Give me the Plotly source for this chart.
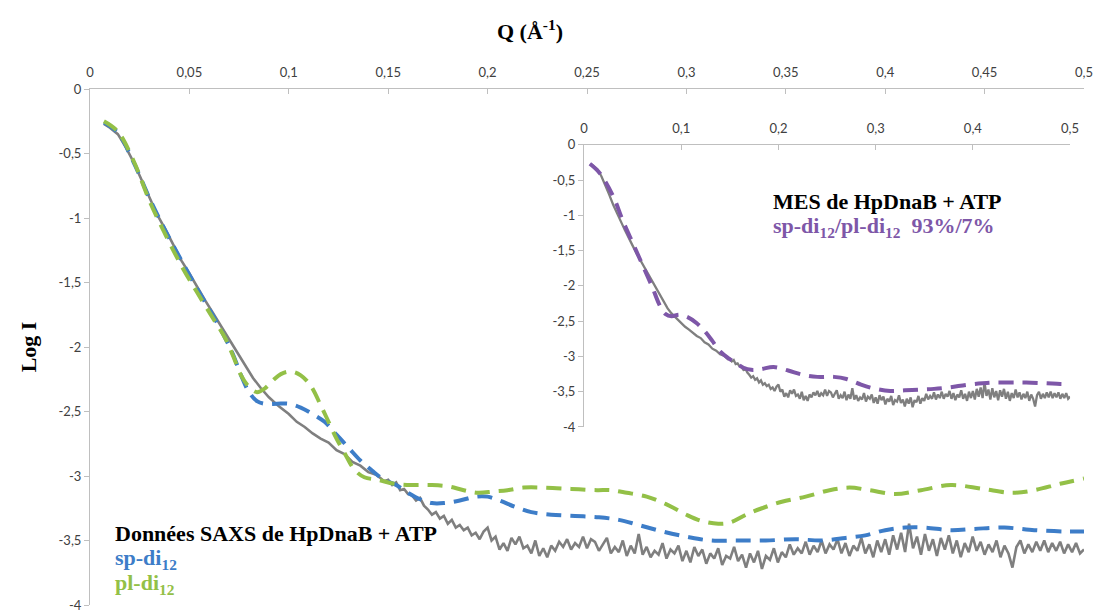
import plotly.graph_objects as go

# ---------------- data ----------------
# Experimental SAXS curve (HpDnaB + ATP), smooth low-q part
q_exp_low = [0.007, 0.010, 0.014, 0.018, 0.022, 0.026, 0.030, 0.034, 0.038, 0.042,
             0.046, 0.050, 0.054, 0.058, 0.062, 0.066, 0.070, 0.074, 0.078, 0.082,
             0.086, 0.090, 0.095, 0.100, 0.104, 0.108, 0.112, 0.116, 0.120, 0.124,
             0.128, 0.132, 0.136, 0.140, 0.144, 0.148]
logI_exp_low = [-0.27, -0.30, -0.35, -0.45, -0.57, -0.71, -0.85, -0.98, -1.09, -1.21,
                -1.33, -1.43, -1.54, -1.64, -1.74, -1.84, -1.94, -2.04, -2.14, -2.24,
                -2.32, -2.39, -2.46, -2.52, -2.58, -2.62, -2.67, -2.71, -2.74, -2.80,
                -2.83, -2.89, -2.92, -2.97, -2.99, -3.04]

# Experimental SAXS curve, noisy high-q part (q = 0.150 ... 0.500, step 0.002)
q_exp_high = [round(0.150 + 0.002 * i, 3) for i in range(176)]
logI_exp_high = [
    -3.03, -3.07, -3.05, -3.11, -3.10, -3.14, -3.15, -3.19, -3.17, -3.23,
    -3.26, -3.30, -3.28, -3.33, -3.31, -3.37, -3.34, -3.40, -3.38, -3.42,
    -3.40, -3.46, -3.44, -3.49, -3.43, -3.40, -3.50, -3.47, -3.57, -3.52,
    -3.58, -3.48, -3.53, -3.47, -3.56, -3.54, -3.60, -3.50, -3.62, -3.56,
    -3.63, -3.54, -3.58, -3.51, -3.55, -3.49, -3.57, -3.52, -3.55, -3.47,
    -3.56, -3.49, -3.51, -3.58, -3.53, -3.48, -3.60, -3.55, -3.59, -3.50,
    -3.62, -3.54, -3.60, -3.45, -3.61, -3.55, -3.63, -3.58, -3.61, -3.52,
    -3.64, -3.57, -3.60, -3.54, -3.66, -3.58, -3.67, -3.55, -3.62, -3.57,
    -3.68, -3.60, -3.64, -3.56, -3.69, -3.62, -3.64, -3.55, -3.66, -3.61,
    -3.71, -3.60, -3.67, -3.58, -3.72, -3.62, -3.65, -3.56, -3.67, -3.59,
    -3.63, -3.53, -3.61, -3.56, -3.60, -3.51, -3.61, -3.54, -3.59, -3.50,
    -3.60, -3.53, -3.57, -3.49, -3.60, -3.52, -3.62, -3.54, -3.58, -3.48,
    -3.60, -3.53, -3.63, -3.50, -3.59, -3.49, -3.61, -3.46, -3.57, -3.44,
    -3.59, -3.37, -3.56, -3.47, -3.61, -3.45, -3.58, -3.49, -3.62, -3.48,
    -3.57, -3.46, -3.60, -3.50, -3.63, -3.52, -3.59, -3.47, -3.58, -3.51,
    -3.61, -3.53, -3.59, -3.50, -3.63, -3.54, -3.60, -3.71, -3.55, -3.50,
    -3.60, -3.53, -3.59, -3.51, -3.58, -3.50, -3.59, -3.52, -3.58, -3.51,
    -3.60, -3.53, -3.59, -3.52, -3.60, -3.57]

q_exp = q_exp_low + q_exp_high
logI_exp = logI_exp_low + logI_exp_high

# sp-di12 model (blue)
q_sp = [0.007, 0.014, 0.022, 0.030, 0.038, 0.046, 0.054, 0.062, 0.068, 0.072,
        0.076, 0.080, 0.084, 0.088, 0.094, 0.100, 0.106, 0.112, 0.118, 0.124,
        0.130, 0.136, 0.142, 0.148, 0.154, 0.160, 0.166, 0.172, 0.178, 0.186,
        0.194, 0.200, 0.206, 0.214, 0.222, 0.232, 0.244, 0.256, 0.266, 0.276,
        0.288, 0.300, 0.312, 0.325, 0.340, 0.355, 0.368, 0.380, 0.390, 0.400,
        0.410, 0.420, 0.433, 0.445, 0.460, 0.475, 0.490, 0.500]
logI_sp = [-0.26, -0.34, -0.57, -0.85, -1.10, -1.33, -1.55, -1.76, -1.93, -2.06,
           -2.22, -2.35, -2.42, -2.44, -2.44, -2.44, -2.47, -2.52, -2.58, -2.68,
           -2.78, -2.88, -2.96, -3.03, -3.07, -3.13, -3.18, -3.21, -3.21, -3.19,
           -3.16, -3.16, -3.19, -3.24, -3.28, -3.30, -3.31, -3.32, -3.34, -3.38,
           -3.43, -3.47, -3.50, -3.50, -3.50, -3.49, -3.50, -3.48, -3.46, -3.42,
           -3.40, -3.40, -3.42, -3.41, -3.40, -3.42, -3.43, -3.43]

# pl-di12 model (green)
q_pl = [0.007, 0.014, 0.022, 0.030, 0.038, 0.046, 0.054, 0.062, 0.068, 0.072,
        0.076, 0.080, 0.084, 0.088, 0.092, 0.096, 0.101, 0.106, 0.111, 0.116,
        0.120, 0.124, 0.128, 0.133, 0.138, 0.145, 0.153, 0.163, 0.172, 0.180,
        0.188, 0.195, 0.203, 0.210, 0.218, 0.228, 0.242, 0.255, 0.262, 0.270,
        0.280, 0.290, 0.300, 0.308, 0.316, 0.322, 0.330, 0.338, 0.348, 0.360,
        0.372, 0.382, 0.392, 0.405, 0.418, 0.433, 0.449, 0.464, 0.475, 0.488,
        0.500]
logI_pl = [-0.25, -0.33, -0.56, -0.87, -1.13, -1.37, -1.58, -1.78, -1.93, -2.07,
           -2.22, -2.31, -2.35, -2.32, -2.26, -2.21, -2.19, -2.22, -2.30, -2.45,
           -2.58, -2.71, -2.82, -2.95, -3.01, -3.03, -3.06, -3.07, -3.07, -3.08,
           -3.11, -3.13, -3.12, -3.11, -3.09, -3.09, -3.10, -3.11, -3.11, -3.13,
           -3.16, -3.22, -3.30, -3.35, -3.37, -3.36, -3.30, -3.25, -3.20, -3.16,
           -3.11, -3.09, -3.11, -3.14, -3.11, -3.07, -3.10, -3.13, -3.11, -3.06,
           -3.02]

# MES fit sp-di12/pl-di12 93%/7% (purple, inset)
q_mes = [0.006, 0.016, 0.030, 0.040, 0.051, 0.061, 0.070, 0.078, 0.084, 0.090,
         0.098, 0.106, 0.116, 0.124, 0.132, 0.140, 0.148, 0.156, 0.164, 0.172,
         0.182, 0.195, 0.210, 0.225, 0.240, 0.257, 0.270, 0.285, 0.300, 0.315,
         0.330, 0.345, 0.360, 0.375, 0.395, 0.410, 0.422, 0.440, 0.455, 0.475,
         0.490, 0.500]
logI_mes = [-0.27, -0.40, -0.73, -1.08, -1.42, -1.73, -2.01, -2.28, -2.40, -2.43,
            -2.41, -2.44, -2.53, -2.64, -2.78, -2.93, -3.02, -3.09, -3.16, -3.19,
            -3.18, -3.15, -3.20, -3.26, -3.29, -3.29, -3.32, -3.40, -3.46, -3.49,
            -3.48, -3.47, -3.46, -3.44, -3.40, -3.38, -3.37, -3.37, -3.37, -3.38,
            -3.39, -3.39]

# tick labels (comma decimals, hyphen minus as in the original)
main_xtick_vals = [0, 0.05, 0.1, 0.15, 0.2, 0.25, 0.3, 0.35, 0.4, 0.45, 0.5]
main_xtick_text = ["0", "0,05", "0,1", "0,15", "0,2", "0,25", "0,3", "0,35", "0,4", "0,45", "0,5"]
inset_xtick_vals = [0, 0.1, 0.2, 0.3, 0.4, 0.5]
inset_xtick_text = ["0", "0,1", "0,2", "0,3", "0,4", "0,5"]
ytick_vals = [0, -0.5, -1, -1.5, -2, -2.5, -3, -3.5, -4]
ytick_text = ["0", "-0,5", "-1", "-1,5", "-2", "-2,5", "-3", "-3,5", "-4"]

# ---------------- styles ----------------
GREY = "#7f7f7f"
BLUE = "#3d7dc8"
GREEN = "#93c047"
PURPLE = "#7e57a8"
AXIS = "#bfbfbf"
TICKFONT = dict(family="Lato", size=13, color="#404040")
SERIF = "Liberation Serif"
DASH = "15px,9px"

fig = go.Figure()

# main chart
fig.add_trace(go.Scatter(x=q_exp, y=logI_exp, mode="lines",
                         line=dict(color=GREY, width=2.6), xaxis="x", yaxis="y"))
fig.add_trace(go.Scatter(x=q_sp, y=logI_sp, mode="lines", line_shape="spline",
                         line=dict(color=BLUE, width=4, dash=DASH), xaxis="x", yaxis="y"))
fig.add_trace(go.Scatter(x=q_pl, y=logI_pl, mode="lines", line_shape="spline",
                         line=dict(color=GREEN, width=4, dash=DASH), xaxis="x", yaxis="y"))

# inset chart
fig.add_trace(go.Scatter(x=q_exp, y=logI_exp, mode="lines",
                         line=dict(color=GREY, width=2.3), xaxis="x2", yaxis="y2"))
fig.add_trace(go.Scatter(x=q_mes, y=logI_mes, mode="lines", line_shape="spline",
                         line=dict(color=PURPLE, width=4, dash=DASH), xaxis="x2", yaxis="y2"))

axis_common = dict(showgrid=False, zeroline=False, showline=True, linecolor=AXIS,
                   linewidth=1, tickcolor=AXIS, ticklen=5, tickfont=TICKFONT,
                   fixedrange=True, automargin=False, ticklabeloverflow="allow")

fig.update_layout(
    width=1096, height=613,
    margin=dict(l=90, r=12, t=89, b=8),
    paper_bgcolor="white", plot_bgcolor="rgba(0,0,0,0)",
    showlegend=False, hovermode=False,
    xaxis=dict(domain=[0, 1], range=[0, 0.5], side="top", anchor="y",
               tickvals=main_xtick_vals, ticktext=main_xtick_text,
               ticks="inside", ticklabelstandoff=6, **axis_common),
    yaxis=dict(domain=[0, 1], range=[-4, 0], anchor="x",
               tickvals=ytick_vals, ticktext=ytick_text,
               ticks="outside", **axis_common),
    xaxis2=dict(domain=[0.497, 0.986], range=[0, 0.5], side="top", anchor="y2",
                tickvals=inset_xtick_vals, ticktext=inset_xtick_text,
                ticks="inside", ticklabelstandoff=6, **axis_common),
    yaxis2=dict(domain=[0.345, 0.892], range=[-4, 0], anchor="x2",
                tickvals=ytick_vals, ticktext=ytick_text,
                ticks="outside", **axis_common),
)

annotations = [
    dict(text="<b>Q (Å<sup>-1</sup>)</b>", x=0.443, y=1.114, xanchor="center", yanchor="middle",
         font=dict(family=SERIF, size=22, color="black")),
    dict(text="<b>Log I</b>", x=-0.062, y=0.50, textangle=-90, xanchor="center", yanchor="middle",
         font=dict(family=SERIF, size=22, color="black")),
    dict(text="<b>Données SAXS de HpDnaB + ATP</b>", x=0.023, y=0.139, xanchor="left", yanchor="middle",
         font=dict(family=SERIF, size=22, color="black")),
    dict(text="<b>sp-di<sub>12</sub></b>", x=0.023, y=0.089, xanchor="left", yanchor="middle",
         font=dict(family=SERIF, size=22, color=BLUE)),
    dict(text="<b>pl-di<sub>12</sub></b>", x=0.023, y=0.040, xanchor="left", yanchor="middle",
         font=dict(family=SERIF, size=22, color=GREEN)),
    dict(text="<b>MES de HpDnaB + ATP</b>", x=0.685, y=0.782, xanchor="left", yanchor="middle",
         font=dict(family=SERIF, size=22, color="black")),
    dict(text="<b>sp-di<sub>12</sub>/pl-di<sub>12</sub>&nbsp;&nbsp;93%/7%</b>", x=0.685, y=0.733,
         xanchor="left", yanchor="middle",
         font=dict(family=SERIF, size=22, color=PURPLE)),
]
for a in annotations:
    a.update(xref="paper", yref="paper", showarrow=False)
fig.update_layout(annotations=annotations)

# remove the default page margin / scrollbars so the figure fills the window exactly
fig.write_html(
    "out.html",
    config={"displayModeBar": False, "staticPlot": True},
    post_script="document.body.style.margin='0';"
                "document.body.style.overflow='hidden';"
                "document.documentElement.style.overflow='hidden';",
)
